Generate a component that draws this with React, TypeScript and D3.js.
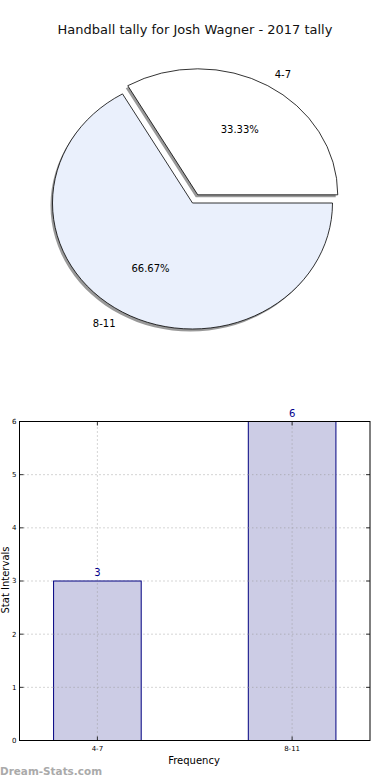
import * as d3 from "d3";

const categories = ["4-7", "8-11"];
const counts = [3, 6];
const yTicks = [0, 1, 2, 3, 4, 5, 6];
const title = "Handball tally for Josh Wagner - 2017 tally";

const W = 390;
const H = 780;

export default function App() {
  // pie (matplotlib-ish, slightly squashed)
  const cx = 192.5, cy = 203, rx = 140, ry = 126;
  const explode = [0.075, 0];
  const pieColors = ["#ffffff", "#eaf0fc"];
  const pie = d3.pie<number>().sort(null).startAngle(Math.PI / 2).endAngle(Math.PI / 2 - 2 * Math.PI);
  const arcs = pie(counts);
  const arc = d3.arc<d3.PieArcDatum<number>>().innerRadius(0).outerRadius(rx);
  const total = d3.sum(counts);

  const slices = arcs.map((a, i) => {
    const mid = (a.startAngle + a.endAngle) / 2;
    const ox = cx + Math.sin(mid) * rx * explode[i];
    const oy = cy - Math.cos(mid) * ry * explode[i];
    const lx = ox + Math.sin(mid) * rx * 1.1;
    const ly = oy - Math.cos(mid) * ry * 1.1;
    const px = ox + Math.sin(mid) * rx * 0.6;
    const py = oy - Math.cos(mid) * ry * 0.6;
    return { a, i, ox, oy, lx, ly, px, py, mid };
  });

  // bar chart
  const x = d3.scaleLinear().domain([-0.4, 1.4]).range([19.5, 370]);
  const y = d3.scaleLinear().domain([0, 6]).range([740.5, 421.5]);
  const bw = x(0.45) - x(0);

  return (
    <svg width={W} height={H} style={{ position: "absolute", left: 0, top: 0, background: "#fff" }}
      fontFamily="DejaVu Sans, sans-serif">
      <rect width={W} height={H} fill="#fff" />
      <text x={195} y={34} textAnchor="middle" fontSize={13} fill="#111">{title}</text>

      {slices.map(s => (
        <g key={"sh" + s.i} transform={`translate(${s.ox - 2},${s.oy + 2.5}) scale(1,${ry / rx})`}>
          <path d={arc(s.a) || ""} fill="#000" fillOpacity={0.4} stroke="none" />
        </g>
      ))}
      {slices.map(s => (
        <g key={"sl" + s.i} transform={`translate(${s.ox},${s.oy}) scale(1,${ry / rx})`}>
          <path d={arc(s.a) || ""} fill={pieColors[s.i]} stroke="#000" strokeWidth={0.8}
            vectorEffect="non-scaling-stroke" strokeLinejoin="miter" />
        </g>
      ))}
      {slices.map(s => (
        <g key={"lb" + s.i} fontSize={10} fill="#000">
          <text x={s.lx} y={s.ly} dy="0.35em" textAnchor={Math.sin(s.mid) > 0 ? "start" : "end"}>
            {categories[s.i]}
          </text>
          <text x={s.px} y={s.py} dy="0.35em" textAnchor="middle">
            {((counts[s.i] / total) * 100).toFixed(2) + "%"}
          </text>
        </g>
      ))}

      {/* grid */}
      <g stroke="#aaa" strokeWidth={1} strokeDasharray="1,3">
        {yTicks.map(t => (
          <line key={"gy" + t} x1={x(-0.4)} x2={x(1.4)} y1={y(t)} y2={y(t)} />
        ))}
        {categories.map((c, i) => (
          <line key={"gx" + c} x1={x(i)} x2={x(i)} y1={y(0)} y2={y(6)} />
        ))}
      </g>

      {/* bars */}
      {counts.map((v, i) => (
        <rect key={"b" + i} x={x(i) - bw / 2} y={y(v)} width={bw} height={y(0) - y(v)}
          fill="#ccccE5" stroke="#000080" strokeWidth={1} />
      ))}
      {/* grid showing over the bars */}
      <g stroke="#999" strokeWidth={1} strokeDasharray="1,3" opacity={0.8}>
        {categories.map((c, i) => (
          <line key={"gx2" + c} x1={x(i)} x2={x(i)} y1={y(0)} y2={y(counts[i])} />
        ))}
        {yTicks.map(t => (
          <g key={"gy2" + t}>
            {counts.map((v, i) => t > 0 && t < v ? (
              <line key={i} x1={x(i) - bw / 2} x2={x(i) + bw / 2} y1={y(t)} y2={y(t)} />
            ) : null)}
          </g>
        ))}
      </g>
      {counts.map((v, i) => (
        <text key={"v" + i} x={x(i)} y={y(v) - 5} textAnchor="middle" fontSize={10} fill="#00008b">{v}</text>
      ))}

      {/* frame */}
      <rect x={x(-0.4)} y={y(6)} width={x(1.4) - x(-0.4)} height={y(0) - y(6)} fill="none" stroke="#000" strokeWidth={1} />

      {/* ticks */}
      <g stroke="#000" strokeWidth={0.8}>
        {yTicks.map(t => (
          <g key={"ty" + t}>
            <line x1={x(-0.4)} x2={x(-0.4) + 4} y1={y(t)} y2={y(t)} />
            <line x1={x(1.4)} x2={x(1.4) - 4} y1={y(t)} y2={y(t)} />
          </g>
        ))}
        {categories.map((c, i) => (
          <g key={"tx" + c}>
            <line x1={x(i)} x2={x(i)} y1={y(0)} y2={y(0) - 4} />
            <line x1={x(i)} x2={x(i)} y1={y(6)} y2={y(6) + 4} />
          </g>
        ))}
      </g>
      <g fontSize={7} fill="#000">
        {yTicks.map(t => (
          <text key={"ly" + t} x={x(-0.4) - 3} y={y(t)} dy="0.35em" textAnchor="end">{t}</text>
        ))}
        {categories.map((c, i) => (
          <text key={"lx" + c} x={x(i)} y={y(0) + 10} textAnchor="middle">{c}</text>
        ))}
      </g>

      <text x={194} y={764} textAnchor="middle" fontSize={10} fill="#000">Frequency</text>
      <text transform="translate(9,580) rotate(-90)" textAnchor="middle" fontSize={10} fill="#000">Stat Intervals</text>
      <text x={0} y={775} fontSize={11} fontWeight="bold" fill="#aaa" textLength={102} lengthAdjust="spacingAndGlyphs">Dream-Stats.com</text>
    </svg>
  );
}
